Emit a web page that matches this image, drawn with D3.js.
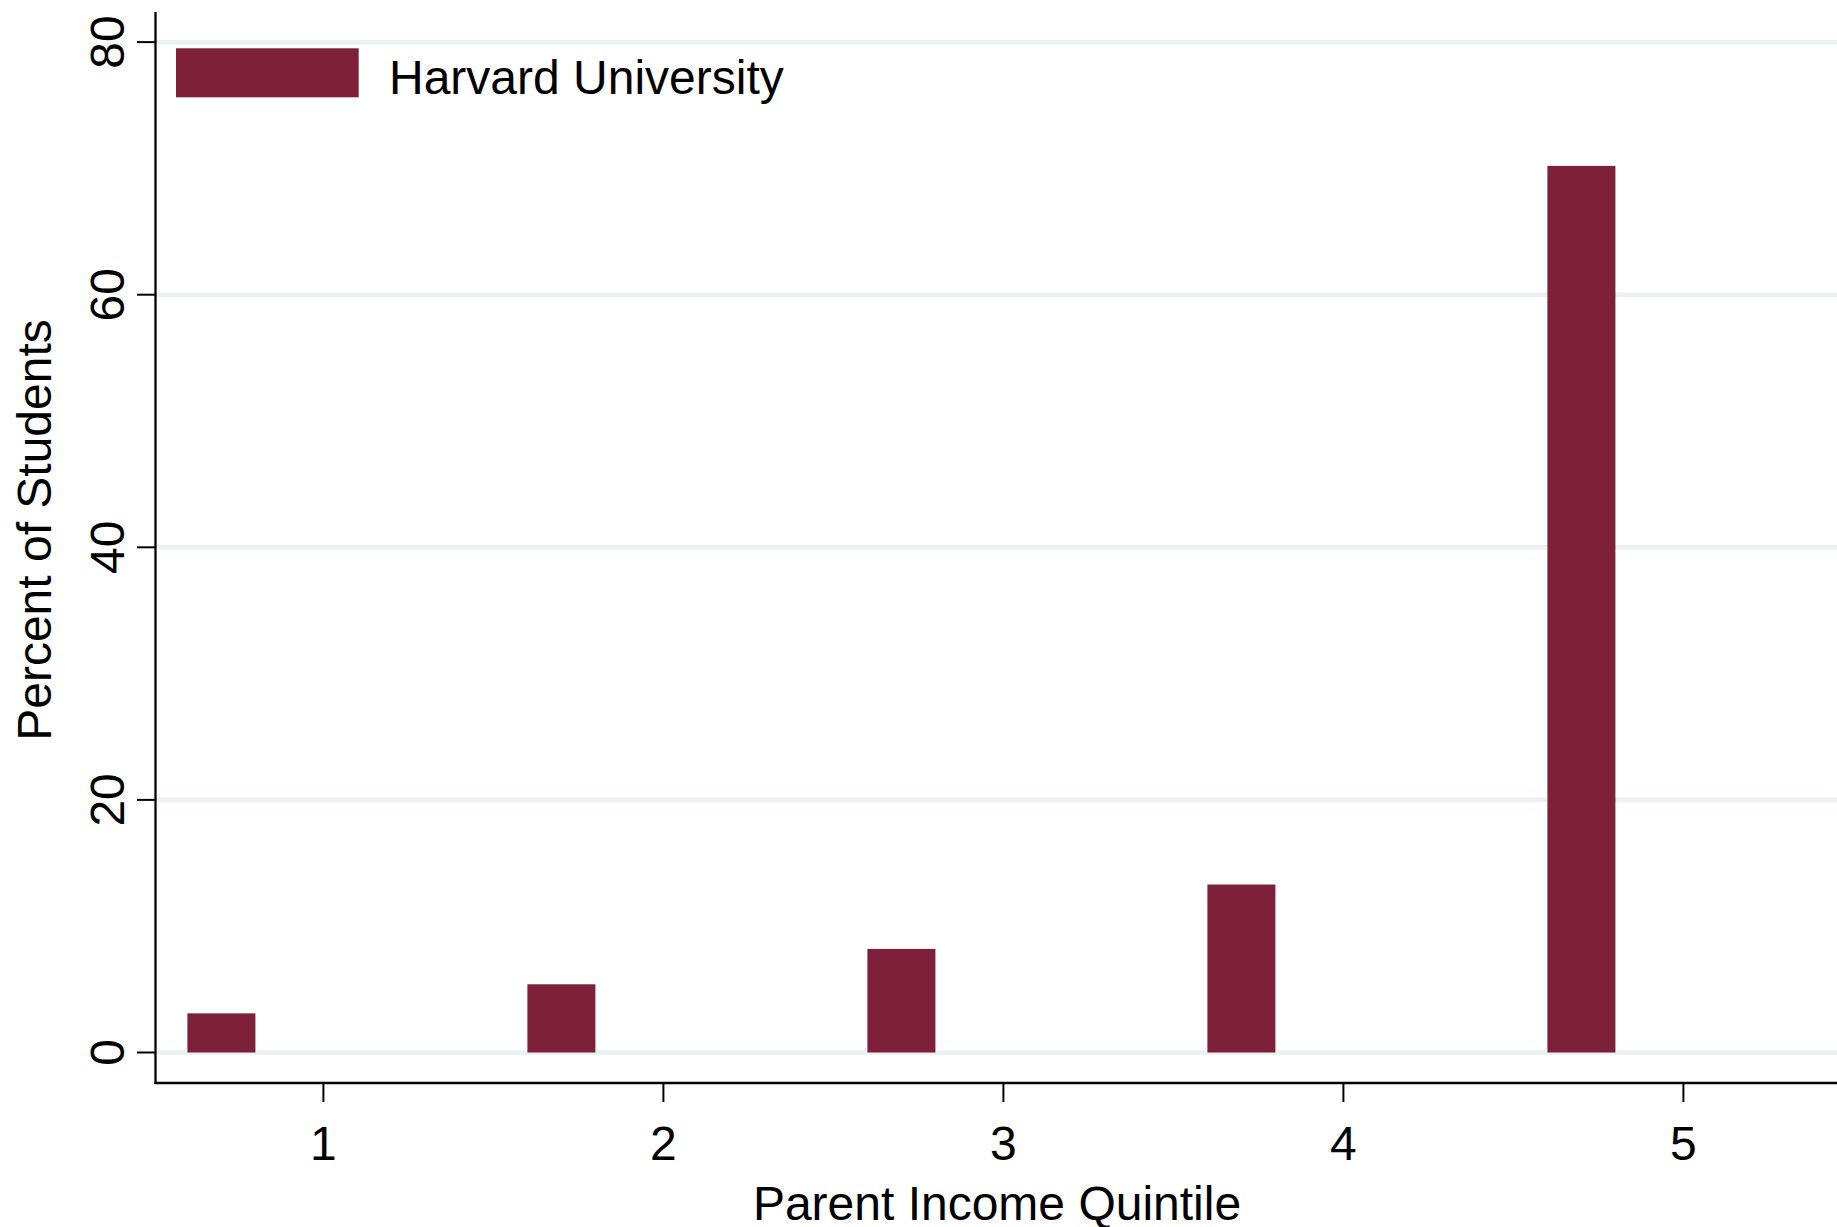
<!DOCTYPE html>
<html>
<head>
<meta charset="utf-8">
<script src="https://cdn.jsdelivr.net/npm/d3@7"></script>
<style>
  html, body { margin: 0; padding: 0; background: #ffffff; }
  svg { display: block; font-family: "Liberation Sans", Arial, Helvetica, sans-serif; }
</style>
</head>
<body>
<svg id="chart" width="1837" height="1227"></svg>
<script>
// ---- data ----
const quintiles = [1, 2, 3, 4, 5];
const percents = [3.1, 5.4, 8.2, 13.3, 70.2];
const yTicks = [0, 20, 40, 60, 80];
const xTickLabels = ["1", "2", "3", "4", "5"];
const seriesName = "Harvard University";
const xTitle = "Parent Income Quintile";
const yTitle = "Percent of Students";

// ---- layout ----
const plotLeft = 155.5, plotRight = 1837, plotTop = 12, plotBottom = 1083;
const barColor = "#7e2039";
const gridColor = "#e9f1f3";

const svg = d3.select("#chart");

const x = d3.scaleLinear().domain([1, 5]).range([323.4, 1683.4]);
const y = d3.scaleLinear().domain([0, 80]).range([1052.5, 42.1]);

// gridlines
svg.append("g").selectAll("line").data(yTicks).join("line")
  .attr("x1", plotLeft).attr("x2", plotRight)
  .attr("y1", d => y(d)).attr("y2", d => y(d))
  .attr("stroke", gridColor).attr("stroke-width", 4.6);

// bars (offset left of each quintile tick)
const barStart = -0.4, barSpan = 0.2;
svg.append("g").selectAll("rect").data(quintiles).join("rect")
  .attr("x", d => x(d + barStart))
  .attr("width", x(1 + barSpan) - x(1))
  .attr("y", (d, i) => y(percents[i]))
  .attr("height", (d, i) => y(0) - y(percents[i]))
  .attr("fill", barColor);

// axes lines
svg.append("line").attr("x1", plotLeft).attr("x2", plotLeft)
  .attr("y1", plotTop).attr("y2", plotBottom + 1)
  .attr("stroke", "#000").attr("stroke-width", 2.3);
svg.append("line").attr("x1", plotLeft - 1).attr("x2", plotRight)
  .attr("y1", plotBottom).attr("y2", plotBottom)
  .attr("stroke", "#000").attr("stroke-width", 2.3);

// y ticks + labels
const yt = svg.append("g").selectAll("g").data(yTicks).join("g")
  .attr("transform", d => `translate(0,${y(d)})`);
yt.append("line").attr("x1", plotLeft - 18.5).attr("x2", plotLeft)
  .attr("stroke", "#000").attr("stroke-width", 2);
yt.append("text")
  .attr("transform", "translate(123.5,0) rotate(-90)")
  .attr("text-anchor", "middle")
  .attr("font-size", 48)
  .attr("fill", "#000")
  .text(d => d);

// x ticks + labels
const xt = svg.append("g").selectAll("g").data(quintiles).join("g")
  .attr("transform", d => `translate(${x(d)},0)`);
xt.append("line").attr("y1", plotBottom).attr("y2", plotBottom + 19)
  .attr("stroke", "#000").attr("stroke-width", 2);
xt.append("text")
  .attr("y", 1160)
  .attr("text-anchor", "middle")
  .attr("font-size", 48)
  .attr("fill", "#000")
  .text((d, i) => xTickLabels[i]);

// axis titles
svg.append("text")
  .attr("transform", "translate(50.5,530) rotate(-90)")
  .attr("text-anchor", "middle")
  .attr("font-size", 48)
  .attr("fill", "#000")
  .text(yTitle);
svg.append("text")
  .attr("x", 997).attr("y", 1219.5)
  .attr("text-anchor", "middle")
  .attr("font-size", 48)
  .attr("fill", "#000")
  .text(xTitle);

// legend
svg.append("rect")
  .attr("x", 176).attr("y", 48.3)
  .attr("width", 182.7).attr("height", 49)
  .attr("fill", barColor);
svg.append("text")
  .attr("x", 389).attr("y", 94.3)
  .attr("font-size", 48)
  .attr("fill", "#000")
  .text(seriesName);
</script>
</body>
</html>
